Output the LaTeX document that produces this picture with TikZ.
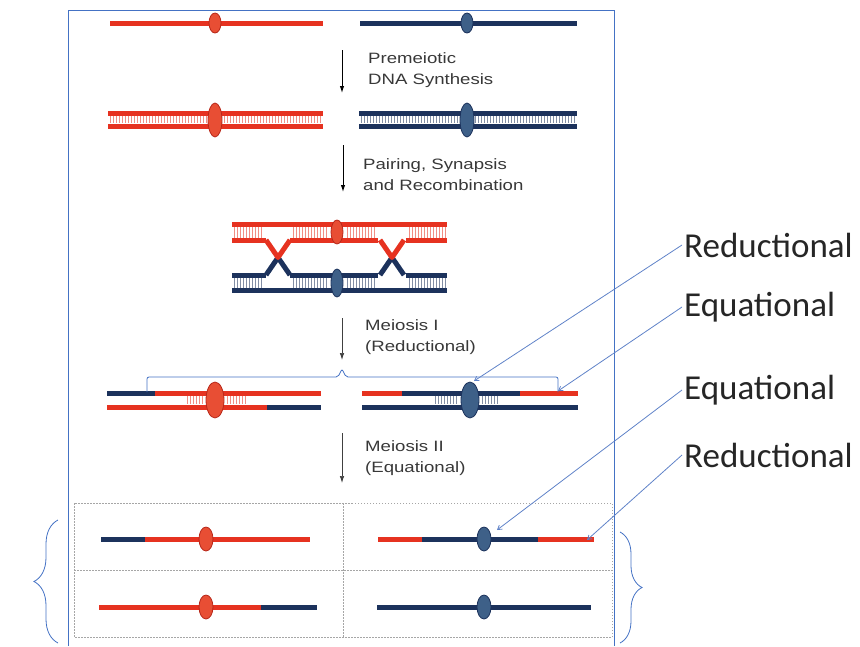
\documentclass[tikz,border=0pt]{standalone}
\usepackage{fontspec}
\setmainfont{Carlito}
\newfontfamily\stepfont[FakeStretch=1.24]{Liberation Sans}
\usetikzlibrary{arrows.meta,decorations.pathreplacing}

\definecolor{chrred}{RGB}{230,50,32}
\definecolor{chrblue}{RGB}{28,50,92}
\definecolor{cenred}{RGB}{232,78,52}
\definecolor{cenblue}{RGB}{62,96,136}
\definecolor{frameblue}{RGB}{68,114,196}
\definecolor{callblue}{RGB}{95,130,200}

\tikzset{
  chr/.style={line width=5pt},
  rung/.style={line width=0.7pt},
  cen/.style={line width=0.8pt},
  steptext/.style={font=\stepfont\fontsize{15}{21}\selectfont, text=black!78, align=left, anchor=west, inner sep=0pt},
  steparrow/.style={-{Latex[length=7pt,width=4.5pt]}, line width=1pt},
  callout/.style={draw=callblue, line width=0.8pt, -{Straight Barb[length=4pt,width=5pt]}},
  biglabel/.style={font=\fontsize{35}{38}\selectfont, anchor=west, inner sep=2pt, text=black!85},
  gridline/.style={draw=black!35, line width=1pt, dash pattern=on 1.5pt off 1.5pt},
  bracket/.style={draw=frameblue, line width=0.8pt}
}

\begin{document}
\begin{tikzpicture}[x=1pt,y=-1pt]
\useasboundingbox (0,0) rectangle (860,646);

% frame round the whole scheme
\draw[frameblue, line width=0.8pt] (68,646) -- (68,10) -- (614,10) -- (614,646);

% --- single chromosomes
\draw[chr, chrred] (110,23) -- (323,23);
\filldraw[cen, fill=cenred, draw=chrred!80!black] (215,23) ellipse (6 and 10);
\draw[chr, chrblue] (360,23) -- (577,23);
\filldraw[cen, fill=cenblue, draw=chrblue] (467,23) ellipse (6 and 10);

% --- after replication: two sisters with a ladder
\foreach \x in {110,113,...,320}
    \draw[rung, chrred!55] (\x,116) -- (\x,123);
\foreach \x in {361,364,...,575}
    \draw[rung, chrblue!55] (\x,116) -- (\x,123);
\draw[chr, chrred] (108,113) -- (323,113) (108,126) -- (323,126);
\draw[chr, chrblue] (359,113) -- (577,113) (359,126) -- (577,126);
\filldraw[cen, fill=cenred, draw=chrred!80!black] (215,120) ellipse (7 and 17);
\filldraw[cen, fill=cenblue, draw=chrblue] (467,120) ellipse (7 and 17);

% --- paired homologues with two crossovers
\foreach \x in {234,237,...,263,293,296,...,326,347,350,...,375,409,412,...,445}{
    \draw[rung, chrred!55] (\x,227) -- (\x,237.5);
    \draw[rung, chrblue!55] (\x,278) -- (\x,287.5);
}
\draw[chr, chrred] (232,224) -- (447,224);
\draw[chr, chrred] (232,240) -- (266,240) (290,240) -- (378,240) (406,240) -- (447,240);
\draw[chr, chrblue] (232,275) -- (266,275) (290,275) -- (378,275) (406,275) -- (447,275);
\draw[chr, chrblue] (232,290) -- (447,290);
\foreach \cx in {278,392}{
    \draw[chr, chrblue, line join=round] (\cx-12,275) -- (\cx,257.5) -- (\cx+12,275);
    \draw[chr, chrred, line join=round] (\cx-12,240) -- (\cx,257.5) -- (\cx+12,240);
}
\filldraw[cen, fill=cenred, draw=chrred!80!black] (337,232) ellipse (6 and 12);
\filldraw[cen, fill=cenblue, draw=chrblue] (337,283) ellipse (6 and 14);

% --- after meiosis I
\foreach \x in {187,190,...,203,227,230,...,247}
    \draw[rung, chrred!55] (\x,396) -- (\x,404);
\foreach \x in {435,438,...,458,482,485,...,497}
    \draw[rung, chrblue!55] (\x,396) -- (\x,404);
\draw[chr, chrblue] (107,393) -- (155,393);
\draw[chr, chrred] (155,393) -- (321,393);
\draw[chr, chrred] (107,407) -- (267,407);
\draw[chr, chrblue] (267,407) -- (321,407);
\filldraw[cen, fill=cenred, draw=chrred!80!black] (215,400) ellipse (9 and 18);
\draw[chr, chrred] (362,393) -- (402,393) (520,393) -- (578,393);
\draw[chr, chrblue] (402,393) -- (520,393);
\draw[chr, chrblue] (362,407) -- (578,407);
\filldraw[cen, fill=cenblue, draw=chrblue] (470,400) ellipse (9 and 18);

% bracket over the two dyads
\draw[bracket, rounded corners=2pt] (147,392) -- (147,377) -- (338,377) -- (342,369)
    -- (346,377) -- (558,377) -- (558,392);

% --- four products in the dotted grid
\draw[gridline] (74,503) rectangle (612,637);
\draw[gridline] (74,570) -- (612,570) (343,503) -- (343,637);

\draw[chr, chrblue] (101,539) -- (145,539);
\draw[chr, chrred] (145,539) -- (310,539);
\filldraw[cen, fill=cenred, draw=chrred!80!black] (206,539) ellipse (7 and 12);
\draw[chr, chrred] (378,539) -- (422,539) (538,539) -- (594,539);
\draw[chr, chrblue] (422,539) -- (538,539);
\filldraw[cen, fill=cenblue, draw=chrblue] (484,539) ellipse (7 and 12);

\draw[chr, chrred] (99,607) -- (261,607);
\draw[chr, chrblue] (261,607) -- (317,607);
\filldraw[cen, fill=cenred, draw=chrred!80!black] (206,607) ellipse (7 and 12);
\draw[chr, chrblue] (377,607) -- (591,607);
\filldraw[cen, fill=cenblue, draw=chrblue] (484,607) ellipse (7 and 12);

% braces round the products
\draw[bracket, decorate, decoration={brace, amplitude=24pt}] (58,643) -- (58,520);
\draw[bracket, decorate, decoration={brace, amplitude=22pt}] (620,532) -- (620,643);

% --- steps
\coordinate (s1top) at (342,50);   \coordinate (s1bot) at (342,93);
\coordinate (s2top) at (343,145);  \coordinate (s2bot) at (343,192);
\coordinate (s3top) at (342,318);  \coordinate (s3bot) at (342,360);
\coordinate (s4top) at (342,433);  \coordinate (s4bot) at (342,483);
\draw[steparrow] (s1top) -- (s1bot);
\draw[steparrow] (s2top) -- (s2bot);
\draw[steparrow, line width=0.7pt, black!75] (s3top) -- (s3bot);
\draw[steparrow, line width=0.7pt, black!75] (s4top) -- (s4bot);
\node[steptext] (premei) at (368,70.5) {Premeiotic\\DNA Synthesis};
\node[steptext] (pairing) at (363,174.5) {Pairing, Synapsis\\and Recombination};
\node[steptext] (meiI) at (365,337) {Meiosis I\\(Reductional)};
\node[steptext] (meiII) at (365,458) {Meiosis II\\(Equational)};

% --- division labels
\node[biglabel] (redA) at (682,245) {Reductional};
\node[biglabel] (equA) at (682,307) {Equational};
\node[biglabel] (equB) at (682,390) {Equational};
\node[biglabel] (redB) at (682,455) {Reductional};
\coordinate (tRedA) at (474,381);
\coordinate (tEquA) at (558,391);
\coordinate (tEquB) at (497,530);
\coordinate (tRedB) at (587,540);
\draw[callout] (redA.west) -- (tRedA);
\draw[callout] (equA.west) -- (tEquA);
\draw[callout] (equB.west) -- (tEquB);
\draw[callout] (redB.west) -- (tRedB);
\end{tikzpicture}
\end{document}
